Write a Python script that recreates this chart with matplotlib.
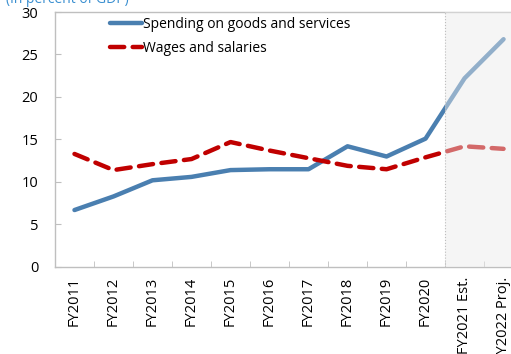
import numpy as np
import matplotlib.pyplot as plt

plt.rcParams['font.family'] = ['Open Sans', 'DejaVu Sans']

years = ["FY2011", "FY2012", "FY2013", "FY2014", "FY2015", "FY2016",
         "FY2017", "FY2018", "FY2019", "FY2020", "FY2021 Est.", "FY2022 Proj."]
goods = [6.7, 8.3, 10.2, 10.6, 11.4, 11.5, 11.5, 14.2, 13.0, 15.1, 22.2, 26.8]
wages = [13.3, 11.4, 12.1, 12.7, 14.7, 13.7, 12.8, 11.9, 11.5, 12.9, 14.2, 13.9]

fig = plt.figure(figsize=(5.11, 3.54), dpi=100)
ax = fig.add_axes([0.1076, 0.2458, 0.916, 0.7203])

x = np.arange(len(years))
ax.plot(x, goods, color='#4a7fb0', lw=3.2, solid_capstyle='round',
        label='Spending on goods and services', zorder=2)
ax.plot(x, wages, color='#c00000', lw=3.2, dashes=(3.2, 1.9), dash_capstyle='round',
        label='Wages and salaries', zorder=2)

# projection shading
ax.axvspan(9.5, 11.5, facecolor='#ebebeb', alpha=0.45, zorder=3, lw=0)
ax.axvline(9.5, color='#bdbdbd', lw=0.8, ls=':', zorder=4)

ax.set_xlim(-0.5, 11.5)
ax.set_ylim(0, 30)
ax.set_yticks(range(0, 31, 5))
ax.set_xticks(x)
ax.set_xticklabels(years, rotation=90, fontsize=10.5)
ax.set_xticks(np.arange(-0.5, 11.6, 1), minor=True)
ax.tick_params(axis='x', which='major', length=0, pad=7)
ax.tick_params(axis='x', which='minor', direction='in', length=4, color='#bfbfbf')
ax.tick_params(axis='y', direction='in', length=4, color='#bfbfbf', labelsize=10.5, pad=12)
for s in ax.spines.values():
    s.set_color('#bfbfbf')
    s.set_linewidth(1)

leg = ax.legend(loc='upper left', bbox_to_anchor=(0.09, 1.03), frameon=False,
                fontsize=10, handlelength=2.3, handletextpad=0.1, labelspacing=0.65)

fig.text(0.012, 0.9915, '(In percent of GDP)', color='#3a8fd0', fontsize=10, va='baseline')

fig.savefig('out.png', dpi=100)
